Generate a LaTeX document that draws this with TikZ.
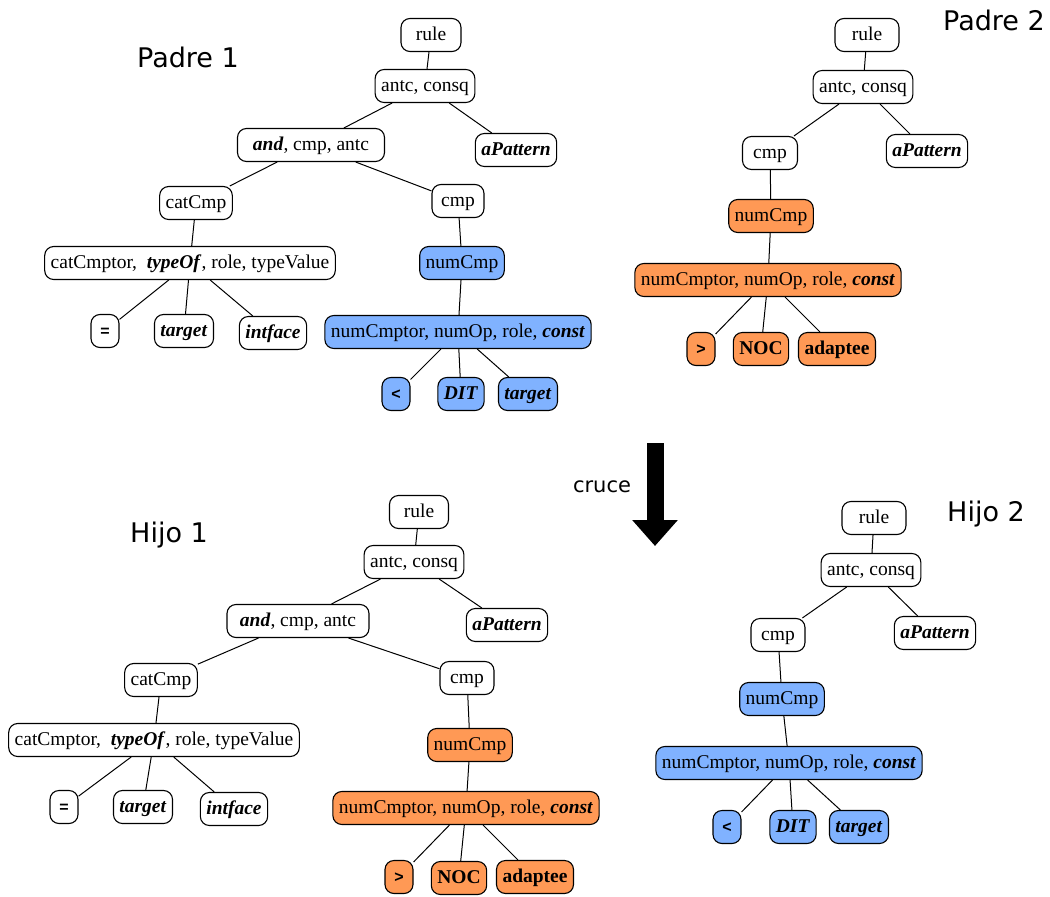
\documentclass[tikz,border=0pt]{standalone}
\usepackage{fontspec}
\setmainfont{Liberation Serif}
\setsansfont{Liberation Sans}
\newfontfamily\titlefont{DejaVu Sans}
\usetikzlibrary{arrows.meta}
\definecolor{cmpblue}{RGB}{128,178,255}
\definecolor{cmporange}{RGB}{255,153,85}
\tikzset{
  tree/.style = {draw, rounded corners=9pt, line width=1.1pt, minimum height=33pt,
    inner xsep=6pt, inner ysep=2pt, text height=14pt, text depth=4pt,
    font=\fontsize{19.5}{22}\selectfont},
  plain/.style = {tree, fill=white},
  bluebox/.style = {tree, fill=cmpblue},
  orangebox/.style = {tree, fill=cmporange},
  opsym/.style = {font=\sffamily\bfseries\fontsize{16}{18}\selectfont,
    minimum width=28pt, inner xsep=3pt},
  title/.style = {font=\titlefont\fontsize{27}{30}\selectfont},
  branch/.style = {line width=1pt}
}
\newcommand{\bi}[1]{\textbf{\textit{#1}}}

\begin{document}
\begin{tikzpicture}[x=1pt, y=-1pt]
  \useasboundingbox (0,0) rectangle (1050,897);

  % Padre 1
  \node[title] (p1t) at (188,57) {Padre 1};
  \node[plain, minimum width=60pt] (p1rule) at (431,35) {rule};
  \node[plain] (p1ac) at (425,86) {antc, consq};
  \node[plain, minimum width=147pt] (p1and) at (311,145) {\bi{and}, cmp, antc};
  \node[plain] (p1pat) at (516,150) {\bi{aPattern}};
  \node[plain] (p1cat) at (196,203) {catCmp};
  \node[plain, minimum width=52pt] (p1cmp) at (458,201) {cmp};
  \node[plain] (p1catop) at (190,263) {catCmptor, \ \bi{typeOf}, role, typeValue};
  \node[bluebox] (p1num) at (462,263) {numCmp};
  \node[plain, opsym] (p1eq) at (105,331) {=};
  \node[plain] (p1tgt) at (184,331) {\bi{target}};
  \node[plain] (p1int) at (273,333) {\bi{intface}};
  \node[bluebox] (p1numop) at (458,332) {numCmptor, numOp, role, \bi{const}};
  \node[bluebox, opsym] (p1lt) at (396,394) {<};
  \node[bluebox] (p1dit) at (461,394) {\bi{DIT}};
  \node[bluebox] (p1tgtb) at (528,394) {\bi{target}};
  \draw[branch] (p1rule) -- (p1ac) (p1ac) -- (p1and) (p1ac) -- (p1pat)
    (p1and) -- (p1cat) (p1and) -- (p1cmp) (p1cat) -- (p1catop)
    (p1cmp) -- (p1num) (p1num) -- (p1numop)
    (p1catop) -- (p1eq) (p1catop) -- (p1tgt) (p1catop) -- (p1int)
    (p1numop) -- (p1lt) (p1numop) -- (p1dit) (p1numop) -- (p1tgtb);

  % Padre 2
  \node[title] (p2t) at (994,20) {Padre 2};
  \node[plain, minimum width=64pt] (p2rule) at (867,35) {rule};
  \node[plain] (p2ac) at (863,87) {antc, consq};
  \node[plain, minimum width=55pt] (p2cmp) at (770,153) {cmp};
  \node[plain] (p2pat) at (927,151) {\bi{aPattern}};
  \node[orangebox] (p2num) at (771,216) {numCmp};
  \node[orangebox] (p2numop) at (768,280) {numCmptor, numOp, role, \bi{const}};
  \node[orangebox, opsym] (p2gt) at (701,349) {>};
  \node[orangebox] (p2noc) at (761,349) {\textbf{NOC}};
  \node[orangebox] (p2adp) at (837,349) {\textbf{adaptee}};
  \draw[branch] (p2rule) -- (p2ac) (p2ac) -- (p2cmp) (p2ac) -- (p2pat)
    (p2cmp) -- (p2num) (p2num) -- (p2numop)
    (p2numop) -- (p2gt) (p2numop) -- (p2noc) (p2numop) -- (p2adp);

  % cruce
  \node[font=\titlefont\fontsize{21}{24}\selectfont] (cruce) at (602,487) {cruce};
  \coordinate (arrtop) at (655,443);
  \coordinate (arrtip) at (655,546);
  \draw[line width=17pt, -{Triangle[width=44pt, length=26pt]}] (arrtop) -- (arrtip);

  % Hijo 1
  \node[title] (h1t) at (169,535) {Hijo 1};
  \node[plain, minimum width=59pt] (h1rule) at (419,512) {rule};
  \node[plain] (h1ac) at (414,562) {antc, consq};
  \node[plain, minimum width=142pt] (h1and) at (298,621) {\bi{and}, cmp, antc};
  \node[plain] (h1pat) at (507,625) {\bi{aPattern}};
  \node[plain] (h1cat) at (161,680) {catCmp};
  \node[plain, minimum width=54pt] (h1cmp) at (467,678) {cmp};
  \node[plain] (h1catop) at (154,740) {catCmptor, \ \bi{typeOf}, role, typeValue};
  \node[orangebox] (h1num) at (470,745) {numCmp};
  \node[plain, opsym] (h1eq) at (64,807) {=};
  \node[plain] (h1tgt) at (143,807) {\bi{target}};
  \node[plain] (h1int) at (234,809) {\bi{intface}};
  \node[orangebox] (h1numop) at (466,808) {numCmptor, numOp, role, \bi{const}};
  \node[orangebox, opsym] (h1gt) at (399,877) {>};
  \node[orangebox] (h1noc) at (459,878) {\textbf{NOC}};
  \node[orangebox] (h1adp) at (535,877) {\textbf{adaptee}};
  \draw[branch] (h1rule) -- (h1ac) (h1ac) -- (h1and) (h1ac) -- (h1pat)
    (h1and) -- (h1cat) (h1and) -- (h1cmp) (h1cat) -- (h1catop)
    (h1cmp) -- (h1num) (h1num) -- (h1numop)
    (h1catop) -- (h1eq) (h1catop) -- (h1tgt) (h1catop) -- (h1int)
    (h1numop) -- (h1gt) (h1numop) -- (h1noc) (h1numop) -- (h1adp);

  % Hijo 2
  \node[title] (h2t) at (986,514) {Hijo 2};
  \node[plain, minimum width=64pt] (h2rule) at (874,518) {rule};
  \node[plain] (h2ac) at (871,570) {antc, consq};
  \node[plain, minimum width=54pt] (h2cmp) at (778,635) {cmp};
  \node[plain] (h2pat) at (935,633) {\bi{aPattern}};
  \node[bluebox] (h2num) at (782,699) {numCmp};
  \node[bluebox] (h2numop) at (789,763) {numCmptor, numOp, role, \bi{const}};
  \node[bluebox, opsym] (h2lt) at (727,827) {<};
  \node[bluebox] (h2dit) at (793,827) {\bi{DIT}};
  \node[bluebox] (h2tgt) at (859,827) {\bi{target}};
  \draw[branch] (h2rule) -- (h2ac) (h2ac) -- (h2cmp) (h2ac) -- (h2pat)
    (h2cmp) -- (h2num) (h2num) -- (h2numop)
    (h2numop) -- (h2lt) (h2numop) -- (h2dit) (h2numop) -- (h2tgt);

\end{tikzpicture}
\end{document}
